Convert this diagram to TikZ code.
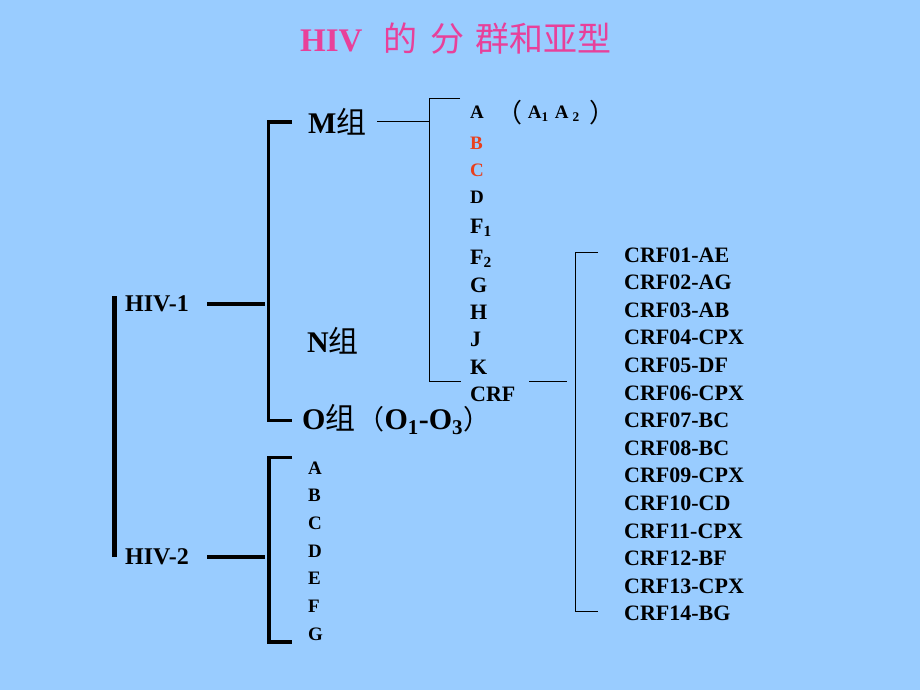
\documentclass[tikz,border=0pt]{standalone}
\usepackage{fontspec}
\setmainfont{Liberation Serif}
\newfontfamily\cjk{Noto Sans CJK SC}
\definecolor{bg}{HTML}{99CCFF}
\definecolor{titlepink}{HTML}{E8409A}
\definecolor{subred}{HTML}{E8401E}
\begin{document}
\begin{tikzpicture}[x=1pt,y=-1pt,
  lbl/.style={anchor=base west,inner sep=0pt,font=\bfseries\fontsize{#1}{#1}\selectfont},
  thinline/.style={line width=1pt},
  heavy/.style={line width=4.5pt},
  brk/.style={line width=3.5pt},
  spine/.style={line width=5pt}]
\fill[bg] (0,0) rectangle (920,690);
\useasboundingbox (0,0) rectangle (920,690);
% title
\node[lbl=33,text=titlepink] (title) at (300,52) {HIV\hspace{21pt}{\cjk\mdseries\fontsize{34}{34}\selectfont 的\hspace{13pt}分\hspace{11pt}群和亚型}};
% HIV labels
\node[lbl=24] (hiv1) at (125,311) {HIV-1};
\node[lbl=24] (hiv2) at (125,564) {HIV-2};
% groups
\node[lbl=30] (gM) at (308,133) {M{\cjk\mdseries 组}};
\node[lbl=30] (gN) at (307,352) {N{\cjk\mdseries 组}};
\node[lbl=30] (gO) at (302,429) {O{\cjk\mdseries 组}{\cjk\mdseries\fontsize{27}{27}\selectfont \hspace{2pt}（}O\textsubscript{1}-O\textsubscript{3}{\cjk\mdseries\fontsize{27}{27}\selectfont ）}};
% M subtypes
\node[lbl=19] (mA) at (470,119) {A\hspace{13pt}\raisebox{-3pt}{\cjk\mdseries\fontsize{26}{26}\selectfont （}\hspace{5pt}A\textsubscript{1}\hspace{6pt}A\hspace{4pt}\textsubscript{2}\hspace{10pt}\raisebox{-3pt}{\cjk\mdseries\fontsize{26}{26}\selectfont ）}};
\node[lbl=19,text=subred] (mB) at (470,149) {B};
\node[lbl=19,text=subred] (mC) at (470,176) {C};
\node[lbl=19] (mD) at (470,203) {D};
\node[lbl=22] (mF1) at (470,233) {F\textsubscript{1}};
\node[lbl=22] (mF2) at (470,264) {F\textsubscript{2}};
\node[lbl=22] (mG) at (470,292) {G};
\node[lbl=22] (mH) at (470,319) {H};
\node[lbl=22] (mJ) at (470,346) {J};
\node[lbl=22] (mK) at (470,374) {K};
\node[lbl=22] (mCRF) at (470,401) {CRF};
% CRF list
\foreach \t [count=\i from 0] in {CRF01-AE,CRF02-AG,CRF03-AB,CRF04-CPX,CRF05-DF,CRF06-CPX,CRF07-BC,CRF08-BC,CRF09-CPX,CRF10-CD,CRF11-CPX,CRF12-BF,CRF13-CPX,CRF14-BG}
  \node[lbl=22] (crf\i) at (624,262+27.6*\i) {\t};
% HIV-2 subtypes
\foreach \t [count=\i from 0] in {A,B,C,D,E,F,G}
  \node[lbl=19] (h2\t) at (308,474+27.67*\i) {\t};
% coordinates
\coordinate (spT) at (114.5,296);
\coordinate (spB) at (114.5,557);
\coordinate (h1L) at (207,304);
\coordinate (h1R) at (265,304);
\coordinate (h2L) at (207,557);
\coordinate (h2R) at (265,557);
\coordinate (bMt) at (292,122);
\coordinate (bMb) at (292,420.5);
\coordinate (b2t) at (292,457.5);
\coordinate (b2b) at (292,642);
\coordinate (mL) at (377,122);
\coordinate (mR) at (429,122);
\coordinate (sT) at (460,98.5);
\coordinate (sB) at (461,381);
\coordinate (cL) at (529,381);
\coordinate (cR) at (567,381);
\coordinate (cT) at (598,252.5);
\coordinate (cB) at (598,611);
% lines
\draw[spine] (spT) -- (spB);
\draw[heavy] (h1L) -- (h1R);
\draw[heavy] (h2L) -- (h2R);
\draw[brk] (bMt) -- (268.5,122) -- (268.5,420.5) -- (bMb);
\draw[brk] (b2t) -- (269,457.5) -- (269,642) -- (b2b);
\draw[thinline] (mL) -- (mR);
\draw[thinline] (sT) -- (429,98.5) -- (429,381) -- (sB);
\draw[thinline] (cL) -- (cR);
\draw[thinline] (cT) -- (575.5,252.5) -- (575.5,611) -- (cB);
\end{tikzpicture}
\end{document}
